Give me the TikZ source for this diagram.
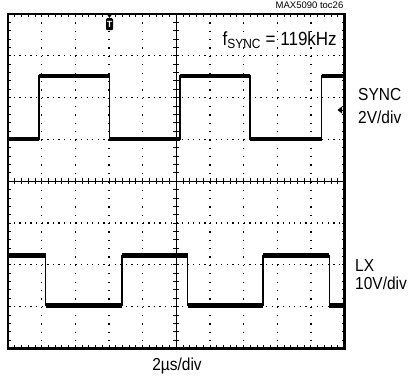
\documentclass[tikz,border=0pt]{standalone}
\usepackage{fontspec}
\usepackage{graphicx}
\setmainfont{Liberation Sans}
\newcommand{\tallt}[1]{\scalebox{1}[1.12]{#1}}
\begin{document}
\begin{tikzpicture}[x=1pt,y=-1pt,
  frameline/.style={line width=2.2pt},
  axisline/.style={line width=0.9pt},
  tickmark/.style={line width=0.8pt},
  vdots/.style={line width=1.3pt, dash pattern=on 1.3pt off 7.06pt},
  hdots/.style={line width=1.3pt, dash pattern=on 1.3pt off 4.31pt},
  edgeline/.style={line width=1.1pt},
  band/.style={line width=4.5pt},
  label/.style={font=\fontsize{15.5}{18}\selectfont, inner sep=0pt},
  trig/.style={fill=black, text=white, rounded corners=1.2pt, inner sep=0pt, minimum width=7pt, minimum height=12pt, font=\fontsize{9}{9}\selectfont\bfseries}
]
\useasboundingbox (0,0) rectangle (408,381);
% dotted grid
\foreach \i in {1,2,3,4,6,7,8,9}
  \draw[vdots] ({8+\i*33.65},14) -- ({8+\i*33.65},348.4);
\foreach \j in {1,2,3,5,6,7}
  \draw[hdots] (8,{14+\j*41.8}) -- (344.5,{14+\j*41.8});
% minor ticks
\foreach \k in {1,...,49} {
  \draw[tickmark] ({8+\k*6.73},14) -- ++(0,3);
  \draw[tickmark] ({8+\k*6.73},348.4) -- ++(0,-3);
  \draw[tickmark] ({8+\k*6.73},178) -- ++(0,6.4);
}
\foreach \k in {1,...,39} {
  \draw[tickmark] (8,{14+\k*8.36}) -- ++(3,0);
  \draw[tickmark] (344.5,{14+\k*8.36}) -- ++(-3,0);
  \draw[tickmark] (172.8,{14+\k*8.36}) -- ++(6.4,0);
}
% center axes
\draw[axisline] (8,181.2) -- (344.5,181.2);
\draw[axisline] (176.25,14) -- (176.25,348.4);
% SYNC trace
\draw[edgeline] (8,139) -- (39,139) -- (39,76) -- (109.5,76) -- (109.5,139) -- (180,139) -- (180,76) -- (250,76) -- (250,139) -- (321.5,139) -- (321.5,76) -- (344.5,76);
\foreach \a/\b/\y in {8/39/139, 39/109.5/76, 109.5/180/139, 180/250/76, 250/321.5/139, 321.5/344.5/76}
  \draw[band] (\a,\y) -- (\b,\y);
% LX trace
\draw[edgeline] (8,255.5) -- (45.7,255.5) -- (45.7,305.5) -- (122,305.5) -- (122,255.5) -- (187.7,255.5) -- (187.7,305.5) -- (263,305.5) -- (263,255.5) -- (329.3,255.5) -- (329.3,305.5) -- (344.5,305.5);
\foreach \a/\b/\y in {8/45.7/255.5, 45.7/122/305.5, 122/187.7/255.5, 187.7/263/305.5, 263/329.3/255.5, 329.3/344.5/305.5}
  \draw[band] (\a,\y) -- (\b,\y);
% frame
\draw[frameline] (8,14) rectangle (344.5,348.4);
% trigger marker
\fill (106.8,14) -- (112.2,14) -- (109.5,18) -- cycle;
\node[trig] (trigger) at (109.5,24.2) {T};
% ground marker SYNC
\fill (337.5,110) -- (342,106.5) -- (342,113.5) -- cycle;
\draw[tickmark] (342,110) -- (344.5,110);
% labels
\node[font=\fontsize{9.5}{11}\selectfont, inner sep=0pt, anchor=base east] (toc) at (343.5,8.3) {MAX5090 toc26};
\node[font=\fontsize{17}{19}\selectfont, inner sep=0pt, anchor=base west] (fsync) at (222.5,45.5) {\tallt{f\textsubscript{SYNC} = 119kHz}};
\node[label, anchor=base west] (sync) at (358,100) {\tallt{SYNC}};
\node[label, anchor=base west] (syncdiv) at (358,123) {\tallt{2V/div}};
\node[label, anchor=base west] (lx) at (355,271.5) {\tallt{LX}};
\node[label, anchor=base west] (lxdiv) at (355,289.5) {\tallt{10V/div}};
\node[label, anchor=base] (time) at (177,370.5) {\tallt{2µs/div}};
\end{tikzpicture}
\end{document}
